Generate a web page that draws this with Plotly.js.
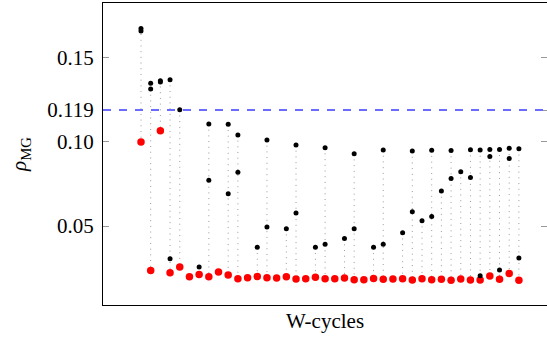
<!DOCTYPE html>
<html>
<head>
<meta charset="utf-8">
<script src="https://cdn.plot.ly/plotly-3.0.1.min.js"></script>
<style>html,body{margin:0;padding:0;background:#fff;}#chart{width:547px;height:339px;}</style>
</head>
<body>
<div id="chart"></div>
<script>
// W-cycle index
const cycles = [0,1,2,3,4,5,6,7,8,9,10,11,12,13,14,15,16,17,18,19,20,21,22,23,24,25,26,27,28,29,30,31,32,33,34,35,36,37,38,39];
// final convergence factor per cycle (red)
const finalRho = [0.100,0.0236,0.1067,0.0222,0.0256,0.0198,0.0212,0.0198,0.0226,0.0208,
                  0.0186,0.0192,0.0200,0.0192,0.0190,0.0198,0.0184,0.0186,0.0195,0.0186,
                  0.0186,0.0190,0.0180,0.0180,0.0188,0.0183,0.0185,0.0186,0.0179,0.0186,
                  0.0180,0.0183,0.0177,0.0185,0.0179,0.0179,0.0202,0.0183,0.0218,0.0177];
// intermediate convergence factors (black), upper and lower
const rhoA = [0.1676,0.1349,0.1364,0.1371,0.1192,null,0.0256,0.1107,null,0.1105,
              0.1042,null,0.0373,0.1012,null,0.0484,0.0982,null,0.0373,0.0966,
              null,0.0425,0.0930,null,0.0373,0.0952,null,0.0460,0.0946,0.0532,
              0.0951,0.0708,0.0949,0.0823,0.0954,0.0952,0.0956,0.0956,0.0962,0.0959];
const rhoB = [0.1661,0.1315,0.1357,0.0305,null,null,null,0.0772,null,0.0692,
              0.0820,null,null,0.0494,null,null,0.0577,null,null,0.0391,
              null,null,0.0484,null,null,0.0391,null,null,0.0585,null,
              0.0556,null,0.0782,null,0.0788,0.0204,0.0913,0.0238,0.0901,0.0310];
const threshold = 0.119;
const tickVals = [0.05, 0.10, 0.119, 0.15];
const tickText = ['0.05', '0.10', '0.119', '0.15'];

// dotted connector lines: from top black point down to red point
const lx = [], ly = [];
cycles.forEach((c, i) => {
  const vals = [rhoA[i], rhoB[i]].filter(v => v !== null);
  if (vals.length) {
    lx.push(c, c, null);
    ly.push(Math.max(...vals, finalRho[i]), Math.min(...vals, finalRho[i]), null);
  }
});
const bx = [], by = [];
cycles.forEach((c, i) => {
  [rhoA[i], rhoB[i]].forEach(v => { if (v !== null) { bx.push(c); by.push(v); } });
});

const traces = [
  {x: lx, y: ly, mode: 'lines', line: {color: '#9a9a9a', width: 1, dash: '1px,4.7px'}, hoverinfo: 'skip', showlegend: false},
  {x: cycles, y: finalRho, mode: 'markers', marker: {color: '#ff0000', size: 7.5}, showlegend: false},
  {x: bx, y: by, mode: 'markers', marker: {color: '#000000', size: 5}, showlegend: false}
];

const font = {family: '"Liberation Serif", "Times New Roman", serif', size: 21, color: '#000'};
const layout = {
  width: 547, height: 339,
  margin: {l: 103, r: 0, t: 3, b: 34, pad: 0},
  paper_bgcolor: '#fff', plot_bgcolor: '#fff',
  font: font,
  showlegend: false,
  xaxis: {
    range: [-3.92, 41.9], showgrid: false, zeroline: false,
    showline: true, linecolor: '#000', linewidth: 1, mirror: true,
    ticks: '', showticklabels: false,
    title: {text: 'W-cycles', font: font, standoff: 8}
  },
  yaxis: {
    range: [0.003, 0.1827], showgrid: false, zeroline: false,
    showline: true, linecolor: '#000', linewidth: 1, mirror: 'ticks',
    ticks: 'inside', ticklen: 6, tickcolor: '#999', tickwidth: 1,
    tickvals: tickVals, ticktext: tickText, tickfont: font,
    ticklabelstandoff: 4,
    title: {text: '<i>ρ</i><sub>MG</sub>', font: font, standoff: 14}
  },
  shapes: [{
    type: 'line', xref: 'paper', x0: 0, x1: 1, yref: 'y', y0: threshold, y1: threshold,
    line: {color: '#6b6bff', width: 2, dash: '8px,8px'}
  }]
};
Plotly.newPlot('chart', traces, layout, {displayModeBar: false, staticPlot: true});
</script>
</body>
</html>
